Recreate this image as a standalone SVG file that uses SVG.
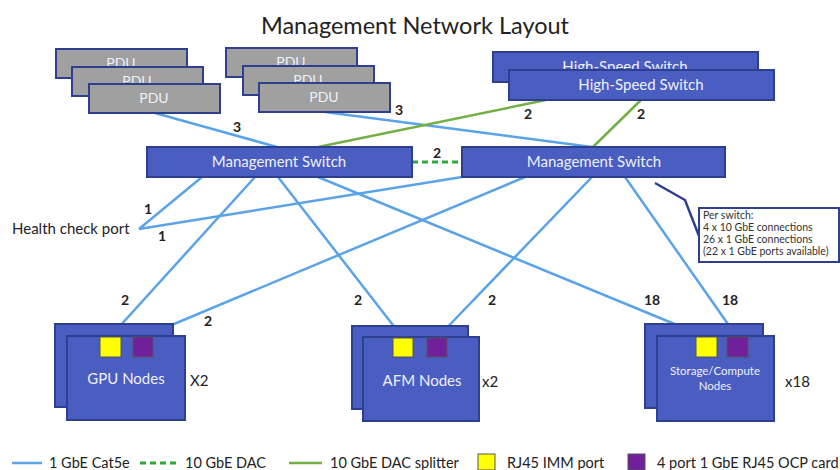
<svg xmlns="http://www.w3.org/2000/svg" width="840" height="470" viewBox="0 0 840 470">
<style>
text{font-family:Lato,"Liberation Sans",sans-serif}
.title{font-size:23.5px;fill:#222}
.pdu{fill:#a0a0a0;stroke:#2f3f8f;stroke-width:2}
.box{fill:#4a5dc0;stroke:#2f3f8f;stroke-width:2}
.lbl{font-size:15px;fill:#eef0fa;text-anchor:middle}
.lblS{font-size:14px;fill:#eef0fa;text-anchor:middle}
.num{font-size:14px;font-weight:bold;fill:#222;text-anchor:middle}
.blue{stroke:#5ba3e8;stroke-width:2.5;fill:none}
.green{stroke:#72b046;stroke-width:2.5;fill:none}
.dash{stroke:#2fa83a;stroke-width:3;stroke-dasharray:6 4;fill:none}
.yel{fill:#ffff00;stroke:#555;stroke-width:1}
.pur{fill:#70209a;stroke:#555;stroke-width:1}
.txt{font-size:15px;fill:#222}
.leg{font-size:14.5px;fill:#222}
.call{font-size:10.5px;fill:#333}
</style>
<text class="title" x="415" y="34" text-anchor="middle">Management Network Layout</text>

<g id="connectors">
<line class="blue" x1="155" y1="113" x2="277" y2="147"/>
<line class="blue" x1="325" y1="112" x2="592" y2="147"/>
<line class="blue" x1="139" y1="229" x2="202" y2="177"/>
<line class="blue" x1="139" y1="229" x2="462" y2="177"/>
<line class="blue" x1="255" y1="177" x2="110" y2="337"/>
<line class="blue" x1="525" y1="177" x2="143" y2="337"/>
<line class="blue" x1="278" y1="177" x2="403" y2="338"/>
<line class="blue" x1="592" y1="177" x2="437" y2="338"/>
<line class="blue" x1="318" y1="177" x2="706" y2="337"/>
<line class="blue" x1="625" y1="177" x2="737" y2="337"/>
<line class="green" x1="318" y1="147" x2="546" y2="100"/>
<line class="green" x1="593" y1="147" x2="641" y2="100"/>
<line class="dash" x1="412" y1="162" x2="462" y2="162"/>
<polyline points="655,183 685,200 699,236" fill="none" stroke="#2f3f8f" stroke-width="2.5"/>
<text class="num" x="237" y="132">3</text>
<text class="num" x="399" y="115">3</text>
<text class="num" x="528" y="119">2</text>
<text class="num" x="641" y="119">2</text>
<text class="num" x="437" y="158">2</text>
<text class="num" x="148" y="214">1</text>
<text class="num" x="162" y="241">1</text>
<text class="num" x="125" y="305">2</text>
<text class="num" x="208" y="326">2</text>
<text class="num" x="358" y="305">2</text>
<text class="num" x="492" y="305">2</text>
<text class="num" x="652" y="305">18</text>
<text class="num" x="730" y="305">18</text>
</g>

<g id="pdu-group-1">
<rect class="pdu" x="56" y="49" width="131" height="29"/>
<text class="lblS" x="121" y="68">PDU</text>
<rect class="pdu" x="72" y="67" width="131" height="29"/>
<text class="lblS" x="137" y="86">PDU</text>
<rect class="pdu" x="89" y="84" width="131" height="29"/>
<text class="lblS" x="154" y="103">PDU</text>
</g>
<g id="pdu-group-2">
<rect class="pdu" x="226" y="48" width="131" height="29"/>
<text class="lblS" x="291" y="67">PDU</text>
<rect class="pdu" x="243" y="66" width="131" height="29"/>
<text class="lblS" x="308" y="85">PDU</text>
<rect class="pdu" x="259" y="83" width="131" height="29"/>
<text class="lblS" x="324" y="102">PDU</text>
</g>

<g id="high-speed-switches">
<rect class="box" x="493" y="52" width="265" height="30"/>
<text class="lbl" x="625" y="72">High-Speed Switch</text>
<rect class="box" x="509" y="70" width="265" height="30"/>
<text class="lbl" x="641" y="90">High-Speed Switch</text>
</g>

<g id="mgmt-switch-left">
<rect class="box" x="147" y="147" width="265" height="30"/>
<text class="lbl" x="279" y="167">Management Switch</text>
</g>
<g id="mgmt-switch-right">
<rect class="box" x="462" y="147" width="263" height="30"/>
<text class="lbl" x="594" y="167">Management Switch</text>
</g>

<g id="health-check">
<text class="txt" x="12" y="234">Health check port</text>
</g>

<g id="callout">
<rect x="699" y="208" width="140" height="54" fill="#fff" stroke="#2f3f8f" stroke-width="2"/>
<text class="call" x="703" y="219">Per switch:</text>
<text class="call" x="703" y="231">4 x 10 GbE connections</text>
<text class="call" x="703" y="243">26 x 1 GbE connections</text>
<text class="call" x="703" y="255">(22 x 1 GbE ports available)</text>
</g>

<g id="gpu-nodes">
<rect class="box" x="55" y="324" width="118" height="83"/>
<rect class="box" x="67" y="336" width="118" height="84"/>
<rect class="yel" x="100" y="337" width="21" height="20"/>
<rect class="pur" x="133" y="337" width="20" height="20"/>
<text class="lbl" x="126" y="384">GPU Nodes</text>
<text class="txt" x="190" y="386">X2</text>
</g>
<g id="afm-nodes">
<rect class="box" x="352" y="326" width="116" height="83"/>
<rect class="box" x="363" y="337" width="116" height="84"/>
<rect class="yel" x="393" y="338" width="20" height="19"/>
<rect class="pur" x="427" y="338" width="20" height="19"/>
<text class="lbl" x="422" y="386">AFM Nodes</text>
<text class="txt" x="482" y="387">x2</text>
</g>
<g id="storage-nodes">
<rect class="box" x="645" y="324" width="118" height="84"/>
<rect class="box" x="657" y="336" width="117" height="85"/>
<rect class="yel" x="696" y="337" width="21" height="20"/>
<rect class="pur" x="727" y="337" width="21" height="20"/>
<text class="lblS" x="715" y="375" style="font-size:11.5px">Storage/Compute</text>
<text class="lblS" x="715" y="390" style="font-size:11.5px">Nodes</text>
<text class="txt" x="785" y="387">x18</text>
</g>

<g id="legend">
<line class="blue" x1="12" y1="463" x2="42" y2="463" stroke-width="3"/>
<text class="leg" x="49" y="468">1 GbE Cat5e</text>
<line class="dash" x1="140" y1="463" x2="176" y2="463"/>
<text class="leg" x="185" y="468">10 GbE DAC</text>
<line class="green" x1="289" y1="463" x2="322" y2="463" stroke-width="3"/>
<text class="leg" x="330" y="468">10 GbE DAC splitter</text>
<rect class="yel" x="478" y="454" width="17" height="16"/>
<text class="leg" x="507" y="468">RJ45 IMM port</text>
<rect class="pur" x="628" y="454" width="17" height="16"/>
<text class="leg" x="657" y="468">4 port 1 GbE RJ45 OCP card</text>
</g>
</svg>
